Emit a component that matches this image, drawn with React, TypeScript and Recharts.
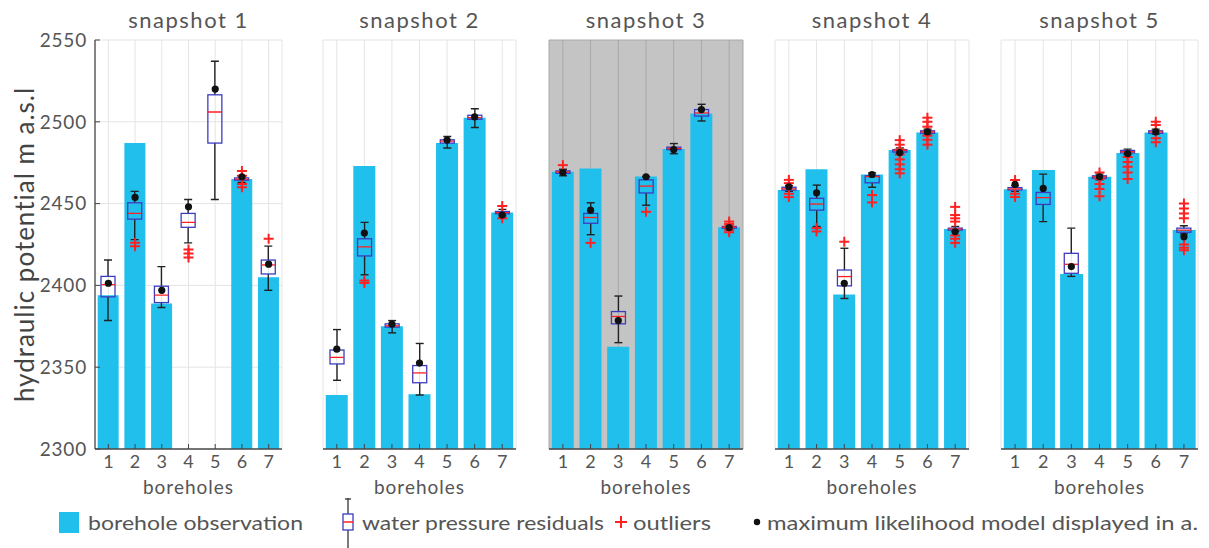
import React from 'react';
import { ComposedChart, Bar, Scatter, XAxis, YAxis, CartesianGrid } from 'recharts';

const boreholes = ['1', '2', '3', '4', '5', '6', '7'];
const yTicks = [2300, 2350, 2400, 2450, 2500, 2550];
const snapshotTitles = ['snapshot 1', 'snapshot 2', 'snapshot 3', 'snapshot 4', 'snapshot 5'];
const legendLabels = ['borehole observation', 'water pressure residuals', 'outliers', 'maximum likelihood model displayed in a.'];
const yLabel = 'hydraulic potential m a.s.l';
const xLabel = 'boreholes';

// box stats per borehole: [lower whisker, q1, median, q3, upper whisker]
// snapshot 1
const observed1 = [2394, 2487, 2389, null, null, 2465, 2405];
const boxes1 = [
  [2378.5, 2393, 2400.5, 2405.5, 2415.5],
  [2428, 2440.5, 2444, 2450.5, 2457.5],
  [2386.5, 2389.5, 2394, 2399.5, 2411.5],
  [2426, 2435.5, 2438.5, 2444, 2452.5],
  [2452.5, 2487, 2506, 2516.5, 2537],
  [2463, 2464.3, 2465, 2465.7, 2467],
  [2397, 2407, 2412.5, 2415.5, 2424],
];
const model1 = [2401.3, 2453.8, 2397, 2448, 2520, 2466.4, 2413];
const outliers1 = [[], [2426, 2424], [], [2422, 2419.5, 2417], [], [2470, 2467, 2462, 2460], [2428.5]];

// snapshot 2
const observed2 = [2333, 2473, 2375, 2333.5, 2487, 2502.5, 2444.5];
const boxes2 = [
  [2342, 2352, 2356, 2360.5, 2373],
  [2406.5, 2418, 2423.5, 2428.5, 2438.5],
  [2371, 2374.5, 2375.3, 2376.5, 2378.5],
  [2333, 2340.5, 2346.5, 2351, 2364.5],
  [2484, 2487, 2488.2, 2489, 2491],
  [2496.5, 2501.5, 2502.5, 2504, 2508],
  [2442.5, 2443.8, 2444.5, 2445.2, 2446.5],
];
const model2 = [2361, 2432, 2376.3, 2352.5, 2488.8, 2503, 2443];
const outliers2 = [[], [2403, 2401.5], [], [], [], [], [2448.5, 2441]];

// snapshot 3
const observed3 = [2469.5, 2471.5, 2362.5, 2466.5, 2483.3, 2505, 2435.5];
const boxes3 = [
  [2467, 2468.5, 2469.3, 2470, 2471],
  [2431, 2438, 2441.5, 2444, 2450.5],
  [2365, 2376.5, 2381, 2384, 2393.5],
  [2449, 2456.5, 2460.7, 2464.5, 2466.5],
  [2480.5, 2483, 2483.7, 2484.5, 2486.7],
  [2500.5, 2503.5, 2505.4, 2507.5, 2510.7],
  [2434, 2435, 2435.5, 2436, 2437],
];
const model3 = [2469, 2446, 2378.5, 2466.4, 2483, 2507.5, 2435.3];
const outliers3 = [[2473.5], [2426], [], [2445], [], [], [2439, 2437.5, 2436, 2434, 2432.5]];

// snapshot 4
const observed4 = [2458.3, 2471, 2394.5, 2467.8, 2482.7, 2493.5, 2434.5];
const boxes4 = [
  [2457.5, 2458.3, 2459, 2460, 2461],
  [2436, 2446, 2449.7, 2453.2, 2461.3],
  [2392, 2399.7, 2405.4, 2409.4, 2422.7],
  [2460, 2462.7, 2466.5, 2467, 2468.8],
  [2480.5, 2481.5, 2482.5, 2483, 2484],
  [2492.5, 2493, 2493.8, 2494.5, 2495.5],
  [2433, 2433.8, 2434.5, 2435, 2436],
];
const model4 = [2460.3, 2456.6, 2401.3, 2467.8, 2481.2, 2493.9, 2432.8];
const outliers4 = [
  [2464.5, 2462.5, 2456, 2454],
  [2435, 2433],
  [2426.7],
  [2455.2, 2450.7],
  [2488.8, 2486, 2483, 2480, 2477, 2474, 2471, 2468.5],
  [2502.5, 2500, 2497, 2494, 2491.5, 2489, 2486],
  [2448, 2443, 2441, 2439, 2430.5, 2428.5, 2426],
];

// snapshot 5
const observed5 = [2458.7, 2470.5, 2407, 2466.4, 2481, 2493.5, 2433.8];
const boxes5 = [
  [2457.5, 2458.3, 2459, 2459.8, 2461],
  [2439, 2449.5, 2453.6, 2456.8, 2468],
  [2405.5, 2407.4, 2412.9, 2419.6, 2435],
  [2464.5, 2465.5, 2466.4, 2467, 2468],
  [2480, 2481, 2481.7, 2482.5, 2483.3],
  [2492.5, 2493, 2493.8, 2494.5, 2495.5],
  [2431.5, 2432.5, 2433.8, 2435, 2436.5],
];
const model5 = [2461.7, 2459.3, 2411.5, 2466.4, 2480.6, 2493.9, 2429.8];
const outliers5 = [
  [2464.5, 2456, 2454],
  [],
  [],
  [2469, 2465, 2462, 2459, 2454.5],
  [2478.5, 2475.5, 2472.5, 2469, 2465],
  [2500, 2498, 2490, 2487.5],
  [2450, 2447, 2444, 2441, 2425, 2423, 2421.5],
];

const outlierKeys = ['o0', 'o1', 'o2', 'o3', 'o4', 'o5', 'o6', 'o7'];

const makeRows = (obs: (number | null)[], boxes: number[][], model: number[], outs: number[][]) =>
  boreholes.map((b, i) => {
    const row: any = {
      b,
      obs: obs[i],
      lo: boxes[i][0],
      q1: boxes[i][1],
      med: boxes[i][2],
      q3: boxes[i][3],
      hi: boxes[i][4],
      model: model[i],
    };
    outs[i].forEach((v, k) => {
      row['o' + k] = v;
    });
    return row;
  });

const panels = [
  makeRows(observed1, boxes1, model1, outliers1),
  makeRows(observed2, boxes2, model2, outliers2),
  makeRows(observed3, boxes3, model3, outliers3),
  makeRows(observed4, boxes4, model4, outliers4),
  makeRows(observed5, boxes5, model5, outliers5),
];

const plotLefts = [95, 323, 549, 775, 1001];
const plotWidths = [187, 193, 194, 194, 197];

const FONT = "Lato, 'Open Sans', sans-serif";
const TEXT = '#555';
const CYAN = '#20bfec';
const BOX_BLUE = '#3c3cc0';
const RED = '#ff2020';

const BoxShape = (p: any) => {
  const { x, y, width, height, payload } = p;
  if (!payload || height == null || isNaN(y)) return <g />;
  const { lo, q1, med, q3, hi } = payload;
  const yHi = height >= 0 ? y : y + height;
  const yLo = height >= 0 ? y + height : y;
  const k = (yLo - yHi) / (hi - lo);
  const py = (v: number) => yHi + (hi - v) * k;
  const cx = x + width / 2;
  const cap = 4;
  const wc = '#222';
  return (
    <g>
      <line x1={cx} x2={cx} y1={py(hi)} y2={py(q3)} stroke={wc} strokeWidth={1.4} />
      <line x1={cx} x2={cx} y1={py(q1)} y2={py(lo)} stroke={wc} strokeWidth={1.4} />
      <line x1={cx - cap} x2={cx + cap} y1={py(hi)} y2={py(hi)} stroke={wc} strokeWidth={1.4} />
      <line x1={cx - cap} x2={cx + cap} y1={py(lo)} y2={py(lo)} stroke={wc} strokeWidth={1.4} />
      <rect x={x} y={py(q3)} width={width} height={Math.max(py(q1) - py(q3), 0.5)} fill="none" stroke={BOX_BLUE} strokeWidth={1.3} />
      <line x1={x} x2={x + width} y1={py(med)} y2={py(med)} stroke={RED} strokeWidth={1.3} />
    </g>
  );
};

const PlusShape = (p: any) => {
  const { cx, cy } = p;
  if (cx == null || cy == null || isNaN(cx) || isNaN(cy)) return <g />;
  const s = 5;
  return (
    <g>
      <line x1={cx - s} x2={cx + s} y1={cy} y2={cy} stroke={RED} strokeWidth={2} />
      <line x1={cx} x2={cx} y1={cy - s} y2={cy + s} stroke={RED} strokeWidth={2} />
    </g>
  );
};

const DotShape = (p: any) => {
  const { cx, cy } = p;
  if (cx == null || cy == null || isNaN(cx) || isNaN(cy)) return <g />;
  return <circle cx={cx} cy={cy} r={3.6} fill="#111" />;
};

function Panel({ idx }: { idx: number }) {
  const rows = panels[idx];
  const showY = idx === 0;
  const gray = idx === 2;
  const mL = 2;
  const mR = 2;
  const yW = showY ? 93 : 0;
  const left = plotLefts[idx] - mL - yW;
  const width = plotWidths[idx] + mL + mR + yW;
  const axisStroke = '#4a4a4a';
  return (
    <div style={{ position: 'absolute', left, top: 0 }}>
      <ComposedChart
        width={width}
        height={500}
        data={rows}
        margin={{ top: 40, right: mR, bottom: 0, left: mL }}
        barCategoryGap="10%"
      >
        <CartesianGrid
          xAxisId="main"
          yAxisId="l"
          stroke={gray ? '#a8a8a8' : '#e4e4e4'}
          fill={gray ? '#c4c4c4' : '#ffffff'}
          fillOpacity={1}
        />
        <XAxis
          xAxisId="main"
          dataKey="b"
          type="category"
          interval={0}
          height={51}
          tickSize={-5}
          tickMargin={11}
          tick={{ fontSize: 18, fill: TEXT, fontFamily: FONT }}
          tickLine={{ stroke: '#444' }}
          axisLine={{ stroke: axisStroke, strokeWidth: 1.3 }}
          label={{ value: xLabel, position: 'insideBottom', offset: 6, style: { fontSize: 19, letterSpacing: 1, fill: TEXT, fontFamily: FONT } }}
        />
        <XAxis
          xAxisId="box"
          dataKey="b"
          type="category"
          orientation="top"
          interval={0}
          height={0}
          tick={false}
          tickSize={-5}
          tickLine={{ stroke: '#444' }}
          axisLine={{ stroke: axisStroke, strokeWidth: 1.3 }}
        />
        <YAxis
          yAxisId="l"
          type="number"
          domain={[2300, 2550]}
          ticks={yTicks}
          allowDataOverflow
          width={yW}
          tick={showY ? { fontSize: 19, letterSpacing: 0.8, fill: TEXT, fontFamily: FONT } : false}
          tickSize={-5}
          tickMargin={13}
          tickLine={{ stroke: '#444' }}
          axisLine={{ stroke: axisStroke, strokeWidth: 1.3 }}
          label={
            showY
              ? {
                  value: yLabel,
                  angle: -90,
                  position: 'insideLeft',
                  offset: 23,
                  style: { textAnchor: 'middle', fontSize: 26, letterSpacing: 1, fill: '#444', fontFamily: FONT },
                }
              : undefined
          }
        />
        <YAxis
          yAxisId="r"
          orientation="right"
          type="number"
          domain={[2300, 2550]}
          ticks={yTicks}
          allowDataOverflow
          width={0}
          tick={false}
          tickSize={-5}
          tickLine={{ stroke: '#444' }}
          axisLine={{ stroke: axisStroke, strokeWidth: 1.3 }}
        />
        <Bar xAxisId="main" yAxisId="l" dataKey="obs" fill={CYAN} isAnimationActive={false} />
        <Bar
          xAxisId="box"
          yAxisId="l"
          dataKey={(d: any) => [d.lo, d.hi]}
          barSize={14}
          shape={BoxShape}
          isAnimationActive={false}
        />
        {outlierKeys.map((k) => (
          <Scatter key={k} xAxisId="main" yAxisId="l" dataKey={k} shape={PlusShape} isAnimationActive={false} />
        ))}
        <Scatter xAxisId="main" yAxisId="l" dataKey="model" shape={DotShape} isAnimationActive={false} />
      </ComposedChart>
      <div
        style={{
          position: 'absolute',
          left: mL + yW,
          width: plotWidths[idx],
          top: 7,
          height: 26,
          lineHeight: '26px',
          textAlign: 'center',
          fontSize: 22,
          letterSpacing: 1.5,
          color: TEXT,
          fontFamily: FONT,
        }}
      >
        {snapshotTitles[idx]}
      </div>
    </div>
  );
}

function Legend() {
  const cy = 24;
  const ts = { fontSize: 20, fill: TEXT, fontFamily: FONT } as any;
  return (
    <svg width={1209} height={50} style={{ position: 'absolute', left: 0, top: 498 }}>
      <rect x={59} y={cy - 10} width={20} height={21} fill={CYAN} />
      <text x={88} y={cy} dominantBaseline="central" style={ts} textLength={215} lengthAdjust="spacingAndGlyphs">{legendLabels[0]}</text>
      <line x1={348} x2={348} y1={0} y2={50} stroke="#333" strokeWidth={1.3} />
      <line x1={345} x2={351} y1={1} y2={1} stroke="#333" strokeWidth={1.3} />
      <rect x={343} y={cy - 8} width={10} height={16} fill="#fff" stroke={BOX_BLUE} strokeWidth={1.3} />
      <line x1={343} x2={353} y1={cy} y2={cy} stroke={RED} strokeWidth={1.5} />
      <text x={362} y={cy} dominantBaseline="central" style={ts} textLength={242} lengthAdjust="spacingAndGlyphs">{legendLabels[1]}</text>
      <line x1={615} x2={627} y1={cy} y2={cy} stroke={RED} strokeWidth={2} />
      <line x1={621} x2={621} y1={cy - 6} y2={cy + 6} stroke={RED} strokeWidth={2} />
      <text x={633} y={cy} dominantBaseline="central" style={ts} textLength={78} lengthAdjust="spacingAndGlyphs">{legendLabels[2]}</text>
      <circle cx={757} cy={cy} r={3.2} fill="#111" />
      <text x={767} y={cy} dominantBaseline="central" style={ts} textLength={431} lengthAdjust="spacingAndGlyphs">{legendLabels[3]}</text>
    </svg>
  );
}

export default function App() {
  return (
    <div
      style={{
        position: 'absolute',
        left: 0,
        top: 0,
        width: 1209,
        height: 548,
        background: '#fff',
        fontFamily: FONT,
        overflow: 'hidden',
      }}
    >
      {[0, 1, 2, 3, 4].map((i) => (
        <Panel key={i} idx={i} />
      ))}
      <Legend />
    </div>
  );
}
